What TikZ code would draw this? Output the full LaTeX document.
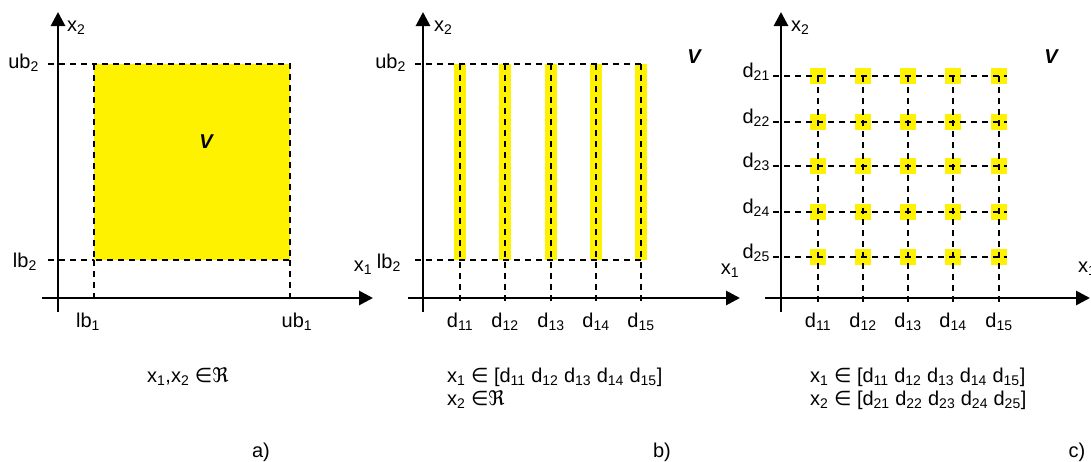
\documentclass[tikz,border=0pt]{standalone}
\usepackage{fontspec}
\setmainfont{Liberation Sans}
\newfontfamily\symfont{DejaVu Sans}
\usetikzlibrary{arrows.meta}

\newcommand{\elem}{{\symfont ∈}}
\newcommand{\reals}{{\symfont ℜ}}
\newcommand{\lo}[1]{\textsubscript{#1}}

\tikzset{
  axis/.style={line width=2.8pt, -{Triangle[length=14pt,width=14pt]}},
  guide/.style={line width=1.6pt, dash pattern=on 6pt off 5pt},
  lbl/.style={inner sep=0pt, font=\fontsize{20}{24}\selectfont},
  dot/.style={fill=yellow, draw=none, minimum size=16pt, inner sep=0pt},
}

\begin{document}
\begin{tikzpicture}[x=1pt,y=-1pt]
\useasboundingbox (0,0) rectangle (1091,461);

% a) continuous
\coordinate (a-ylo) at (58,312);
\coordinate (a-yhi) at (58,12);
\coordinate (a-xlo) at (42,298);
\coordinate (a-xhi) at (373,298);
\coordinate (a-tl) at (94,64);
\coordinate (a-br) at (290,260);
\coordinate (a-bl) at (94,260);
\coordinate (a-ub) at (48,64);
\coordinate (a-lb) at (48,260);
\draw[guide, line width=1.2pt, fill=yellow] (a-tl) rectangle (a-br);
\draw[guide] (a-ub) -- (a-tl);
\draw[guide] (a-lb) -- (a-bl);
\draw[guide] (a-bl) -- (a-bl |- a-xlo);
\draw[guide] (a-br) -- (a-br |- a-xlo);
\draw[axis] (a-ylo) -- (a-yhi);
\draw[axis] (a-xlo) -- (a-xhi);
\node[lbl, anchor=west] (a-x2) at (67,28) {x\lo{2}};
\node[lbl] (a-x1) at (363,268) {x\lo{1}};
\node[lbl, anchor=east] (a-ub2) at (39,63) {ub\lo{2}};
\node[lbl, anchor=east] (a-lb2) at (37,262) {lb\lo{2}};
\node[lbl] (a-lb1) at (88,322) {lb\lo{1}};
\node[lbl] (a-ub1) at (297,322) {ub\lo{1}};
\node[lbl] (a-v) at (206,142) {\bfseries\itshape V};
\node[lbl, anchor=west] (a-set) at (147,377) {x\lo{1},x\lo{2} \elem\reals};
\node[lbl] (a-tag) at (261,452) {a)};

% b) x1 discrete
\coordinate (b-ylo) at (423,312);
\coordinate (b-yhi) at (423,12);
\coordinate (b-xlo) at (408,298);
\coordinate (b-xhi) at (740,298);
\foreach \i/\x in {1/460,2/505,3/551,4/596,5/641}
  \fill[yellow] (\x-6,64) rectangle (\x+6,260);
\draw[guide] (415,64) -- (645,64);
\draw[guide] (415,260) -- (645,260);
\foreach \i/\x in {1/460,2/505,3/551,4/596,5/641} {
  \draw[guide] (\x,64) -- (\x,302);
  \node[lbl] (b-d1\i) at (\x,322) {d\lo{1\i}};
}
\draw[axis] (b-ylo) -- (b-yhi);
\draw[axis] (b-xlo) -- (b-xhi);
\node[lbl, anchor=west] (b-x2) at (434,28) {x\lo{2}};
\node[lbl] (b-x1) at (730,271) {x\lo{1}};
\node[lbl, anchor=east] (b-ub2) at (406,63) {ub\lo{2}};
\node[lbl, anchor=east] (b-lb2) at (401,263) {lb\lo{2}};
\node[lbl] (b-v) at (694,57) {\bfseries\itshape V};
\node[lbl, anchor=west] (b-set1) at (447,377) {x\lo{1} \elem{} [d\lo{11} d\lo{12} d\lo{13} d\lo{14} d\lo{15}]};
\node[lbl, anchor=west] (b-set2) at (447,400) {x\lo{2} \elem\reals};
\node[lbl] (b-tag) at (662,452) {b)};

% c) x1 and x2 discrete
\coordinate (c-ylo) at (781,312);
\coordinate (c-yhi) at (781,12);
\coordinate (c-xlo) at (765,298);
\coordinate (c-xhi) at (1090,298);
\foreach \j/\y in {1/76,2/122,3/166,4/212,5/257}
  \foreach \i/\x in {1/818,2/863,3/908,4/953,5/999}
    \node[dot] (c-p\i\j) at (\x,\y) {};
\foreach \j/\y in {1/76,2/122,3/166,4/212,5/257} {
  \draw[guide] (773,\y) -- (1007,\y);
  \node[lbl, anchor=east] (c-d2\j) at (770,\y-4) {d\lo{2\j}};
}
\foreach \i/\x in {1/818,2/863,3/908,4/953,5/999} {
  \draw[guide] (\x,76) -- (\x,302);
  \node[lbl] (c-d1\i) at (\x,322) {d\lo{1\i}};
}
\draw[axis] (c-ylo) -- (c-yhi);
\draw[axis] (c-xlo) -- (c-xhi);
\node[lbl, anchor=west] (c-x2) at (791,28) {x\lo{2}};
\node[lbl, anchor=west] (c-x1) at (1078,269) {x\lo{1}};
\node[lbl] (c-v) at (1051,57) {\bfseries\itshape V};
\node[lbl, anchor=west] (c-set1) at (810,377) {x\lo{1} \elem{} [d\lo{11} d\lo{12} d\lo{13} d\lo{14} d\lo{15}]};
\node[lbl, anchor=west] (c-set2) at (810,400) {x\lo{2} \elem{} [d\lo{21} d\lo{22} d\lo{23} d\lo{24} d\lo{25}]};
\node[lbl] (c-tag) at (1077,452) {c)};
\end{tikzpicture}
\end{document}
